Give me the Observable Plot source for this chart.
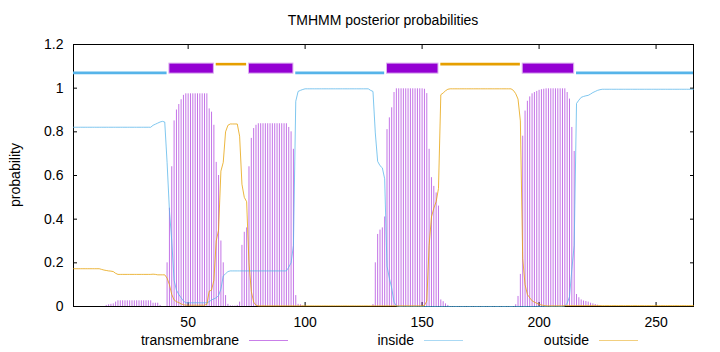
<!DOCTYPE html>
<html><head><meta charset="utf-8">
<script src="https://cdn.jsdelivr.net/npm/d3@7"></script>
<script src="https://cdn.jsdelivr.net/npm/@observablehq/plot@0.6"></script>
<style>
body{margin:0;background:#fff;font-family:"Liberation Sans",Arial,sans-serif;}
#wrap{position:relative;width:720px;height:352px;overflow:hidden;}
.t{position:absolute;font-size:14px;line-height:16px;color:#000;white-space:nowrap;}
.ln{position:absolute;height:1px;}
</style></head><body><div id="wrap"></div>
<script>
// posterior probability per residue (1..266)
const tm = [
0,0,0,0,0,0,0,0,0,0,
0,0,0,0,0.005,0.008,0.01,0.012,0.02,0.026,
0.026,0.026,0.026,0.026,0.026,0.026,0.026,0.026,0.026,0.026,
0.026,0.026,0.026,0.026,0.015,0.015,0.015,0.005,0,0,
0.2,0.45,0.64,0.85,0.9,0.925,0.947,0.967,0.974,0.974,
0.974,0.974,0.974,0.974,0.974,0.974,0.974,0.974,0.905,0.89,
0.83,0.66,0.6,0.3,0.2,0.05,0.01,0.003,0.002,0.002,
0.005,0.02,0.28,0.34,0.36,0.64,0.77,0.815,0.83,0.837,
0.837,0.837,0.837,0.837,0.837,0.837,0.837,0.837,0.837,0.837,
0.837,0.837,0.82,0.8,0.72,0.05,0.01,0.008,0.003,0,
0,0,0,0,0,0,0,0,0,0,
0,0,0,0,0,0,0,0,0,0,
0,0,0,0,0,0,0,0,0.009,0.2,
0.33,0.35,0.36,0.41,0.81,0.864,0.91,0.98,0.997,0.997,
0.997,0.997,0.997,0.997,0.997,0.997,0.997,0.997,0.997,0.997,
0.995,0.975,0.72,0.59,0.55,0.52,0.46,0.03,0.022,0.012,
0.005,0,0,0,0,0,0,0,0,0,
0,0,0,0,0,0,0,0,0,0,
0,0,0,0,0,0,0,0,0,0.008,
0.046,0.147,0.78,0.895,0.94,0.96,0.974,0.98,0.985,0.99,
0.993,0.995,0.997,0.997,0.997,0.997,0.997,0.997,0.997,0.997,
0.997,0.98,0.95,0.82,0.71,0.055,0.04,0.03,0.025,0.023,
0.02,0.015,0.012,0.009,0.006,0.003,0,0,0,0,
0,0,0,0,0,0,0,0,0,0,
0,0,0,0,0,0,0,0,0,0,
0,0,0,0,0,0,0,0,0,0,
0,0,0,0,0,0
];
const inside = [
0.821,0.821,0.821,0.821,0.821,0.821,0.821,0.821,0.821,0.821,
0.821,0.821,0.821,0.821,0.821,0.821,0.821,0.821,0.821,0.821,
0.821,0.821,0.821,0.821,0.821,0.821,0.821,0.821,0.821,0.821,
0.821,0.821,0.821,0.821,0.83,0.835,0.84,0.845,0.848,0.845,
0.66,0.44,0.3,0.12,0.075,0.055,0.04,0.025,0.017,0.017,
0.017,0.017,0.017,0.017,0.017,0.017,0.017,0.017,0.022,0.03,
0.035,0.04,0.05,0.08,0.14,0.15,0.16,0.163,0.163,0.163,
0.163,0.163,0.163,0.163,0.163,0.163,0.163,0.163,0.163,0.163,
0.163,0.163,0.163,0.163,0.163,0.163,0.163,0.163,0.163,0.163,
0.163,0.163,0.18,0.2,0.28,0.94,0.985,0.99,0.994,0.997,
0.997,0.997,0.997,0.997,0.997,0.997,0.997,0.997,0.997,0.997,
0.997,0.997,0.997,0.997,0.997,0.997,0.997,0.997,0.997,0.997,
0.997,0.997,0.997,0.997,0.997,0.997,0.997,0.99,0.985,0.795,
0.665,0.645,0.635,0.585,0.185,0.13,0.085,0.02,0.003,0,
0,0,0,0,0,0,0,0,0,0,
0,0,0,0,0,0,0,0,0,0,
0,0,0,0,0,0,0,0,0,0,
0,0,0,0,0,0,0,0,0,0,
0,0,0,0,0,0,0,0,0,0,
0,0,0,0,0,0,0,0,0,0,
0,0,0,0,0,0,0,0,0,0,
0.002,0.015,0.045,0.17,0.28,0.93,0.945,0.958,0.962,0.965,
0.967,0.973,0.98,0.985,0.99,0.993,0.995,0.995,0.995,0.995,
0.995,0.995,0.995,0.995,0.995,0.995,0.995,0.995,0.995,0.995,
0.995,0.995,0.995,0.995,0.995,0.995,0.995,0.995,0.995,0.995,
0.995,0.995,0.995,0.995,0.995,0.995,0.995,0.995,0.995,0.995,
0.995,0.995,0.995,0.995,0.995,0.995
];
const outside = [
0.173,0.173,0.173,0.173,0.173,0.173,0.173,0.173,0.173,0.173,
0.173,0.173,0.17,0.167,0.165,0.163,0.162,0.16,0.152,0.147,
0.147,0.147,0.147,0.147,0.147,0.147,0.147,0.147,0.147,0.147,
0.147,0.147,0.147,0.147,0.148,0.147,0.145,0.145,0.145,0.145,
0.13,0.1,0.055,0.03,0.022,0.018,0.012,0.008,0.006,0.006,
0.006,0.006,0.006,0.006,0.006,0.006,0.006,0.01,0.07,0.075,
0.12,0.3,0.35,0.62,0.66,0.8,0.83,0.836,0.836,0.836,
0.836,0.78,0.56,0.5,0.48,0.2,0.07,0.02,0.006,0.003,
0.003,0.003,0.003,0.003,0.003,0.003,0.003,0.003,0.003,0.003,
0.003,0.003,0.003,0.003,0.003,0.003,0.003,0.003,0.003,0.003,
0.003,0.003,0.003,0.003,0.003,0.003,0.003,0.003,0.003,0.003,
0.003,0.003,0.003,0.003,0.003,0.003,0.003,0.003,0.003,0.003,
0.003,0.003,0.003,0.003,0.003,0.003,0.003,0.003,0.003,0.003,
0.003,0.003,0.003,0.003,0.003,0.003,0.003,0.003,0.003,0.003,
0.003,0.003,0.003,0.003,0.003,0.003,0.003,0.003,0.003,0.003,
0.005,0.025,0.28,0.41,0.45,0.48,0.54,0.97,0.978,0.988,
0.995,0.997,0.997,0.997,0.997,0.997,0.997,0.997,0.997,0.997,
0.997,0.997,0.997,0.997,0.997,0.997,0.997,0.997,0.997,0.997,
0.997,0.997,0.997,0.997,0.997,0.997,0.997,0.997,0.99,0.975,
0.95,0.85,0.22,0.1,0.055,0.04,0.026,0.02,0.015,0.01,
0.007,0.005,0.003,0.003,0.003,0.003,0.003,0.003,0.003,0.003,
0.004,0.004,0.004,0.004,0.004,0.004,0.004,0.004,0.004,0.004,
0.004,0.004,0.004,0.004,0.004,0.004,0.004,0.004,0.004,0.004,
0.004,0.004,0.004,0.004,0.004,0.004,0.004,0.004,0.004,0.004,
0.004,0.004,0.004,0.004,0.004,0.004,0.004,0.004,0.004,0.004,
0.004,0.004,0.004,0.004,0.004,0.004,0.004,0.004,0.004,0.004,
0.004,0.004,0.004,0.004,0.004,0.004
];
// predicted topology (top bars)
const segStart = [1, 42, 62, 76, 96, 135, 158, 193, 216];
const segEnd   = [41, 61, 75, 95, 134, 157, 192, 215, 266];
const segType  = ["inside","transmembrane","outside","transmembrane","inside","transmembrane","outside","transmembrane","inside"];
// axes / labels
const xTicks = [50, 100, 150, 200, 250];
const yTicks = [0, 0.2, 0.4, 0.6, 0.8, 1, 1.2];
const yTickLabels = ["0", "0.2", "0.4", "0.6", "0.8", "1", "1.2"];
const seriesNames = ["transmembrane", "inside", "outside"];
const titleText = "TMHMM posterior probabilities";
const yLabel = "probability";

const colors = {transmembrane: "#9400d3", inside: "#56b4e9", outside: "#e69f00"};
const lineOpacity = {transmembrane: 0.55, inside: 0.75, outside: 0.75};
const legendOpacity = {transmembrane: 0.5, inside: 0.5, outside: 0.5};

const n = tm.length;
const rows = tm.map((v, i) => ({pos: i + 1, tm: v, inside: inside[i], outside: outside[i]}));
const segs = segStart.map((s, i) => ({start: s, end: segEnd[i], type: segType[i]}));

const plot = Plot.plot({
  width: 720, height: 352,
  marginLeft: 73, marginRight: 27, marginTop: 44, marginBottom: 46,
  x: {domain: [1, n]},
  y: {domain: [0, 1.2]},
  style: {fontSize: "14px", fontFamily: "Liberation Sans, Arial, sans-serif", color: "#000", background: "#fff"},
  marks: [
    Plot.frame({stroke: "#000", strokeWidth: 1}),
    Plot.axisX({ticks: xTicks, tickSize: 0, tickPadding: 11, tickFormat: d => String(d), label: null, fill: "#000"}),
    Plot.axisX({ticks: xTicks, anchor: "bottom", tickSize: -4, tickFormat: () => "", label: null, stroke: "#000"}),
    Plot.axisX({ticks: xTicks, anchor: "top", tickSize: -4, tickFormat: () => "", label: null, stroke: "#000"}),
    Plot.axisY({ticks: yTicks, tickSize: 0, tickPadding: 10, tickFormat: d => yTickLabels[yTicks.indexOf(d)], label: null, fill: "#000"}),
    Plot.axisY({ticks: yTicks, anchor: "left", tickSize: -4, tickFormat: () => "", label: null, stroke: "#000"}),
    Plot.axisY({ticks: yTicks, anchor: "right", tickSize: -4, tickFormat: () => "", label: null, stroke: "#000"}),
    Plot.ruleX(rows, {x: "pos", y1: () => 0, y2: "tm", stroke: colors.transmembrane, strokeOpacity: lineOpacity.transmembrane, strokeWidth: 1}),
    Plot.line(rows, {x: "pos", y: "inside", stroke: colors.inside, strokeOpacity: lineOpacity.inside, strokeWidth: 1}),
    Plot.line(rows, {x: "pos", y: "outside", stroke: colors.outside, strokeOpacity: lineOpacity.outside, strokeWidth: 1}),
    Plot.ruleY(segs.filter(d => d.type === "inside"), {x1: "start", x2: "end", y: () => 1.07, stroke: colors.inside, strokeWidth: 2.6}),
    Plot.ruleY(segs.filter(d => d.type === "outside"), {x1: "start", x2: "end", y: () => 1.11, stroke: colors.outside, strokeWidth: 2.6}),
    Plot.rect(segs.filter(d => d.type === "transmembrane"), {x1: "start", x2: "end", y1: () => 1.0665, y2: () => 1.1125, fill: colors.transmembrane, stroke: "#dcb0f0", strokeWidth: 1})
  ]
});

const wrap = document.getElementById("wrap");
wrap.appendChild(plot);

function addText(txt, css) {
  const d = document.createElement("div");
  d.className = "t";
  d.textContent = txt;
  Object.assign(d.style, css);
  wrap.appendChild(d);
  return d;
}
// title
addText(titleText, {left: "73px", width: "620px", textAlign: "center", top: "12px"});
// y label
addText(yLabel, {left: "15px", top: "175px", transform: "translate(-50%,-50%) rotate(-90deg)"});
// legend
const legendRight = [239, 414, 589];
seriesNames.forEach((name, i) => {
  addText(name, {right: (720 - legendRight[i]) + "px", top: "332px", textAlign: "right"});
  const l = document.createElement("div");
  l.className = "ln";
  Object.assign(l.style, {left: (legendRight[i] + 10) + "px", width: "39px", top: "340px",
    background: colors[name], opacity: legendOpacity[name]});
  wrap.appendChild(l);
});
</script></body></html>
